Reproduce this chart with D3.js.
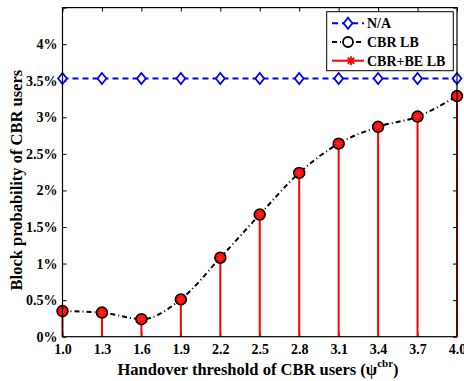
<!DOCTYPE html>
<html>
<head>
<meta charset="utf-8">
<script src="https://cdn.jsdelivr.net/npm/d3@7"></script>
<style>
  html, body { margin: 0; padding: 0; background: #fff; }
  svg { display: block; }
  text { font-family: "Liberation Serif", "Times New Roman", serif; font-weight: bold; fill: #000; }
</style>
</head>
<body>
<svg id="chart" width="464" height="381"></svg>
<script>
// Handover thresholds (x) and block probabilities in percent
const thresholds = [1.0, 1.3, 1.6, 1.9, 2.2, 2.5, 2.8, 3.1, 3.4, 3.7, 4.0];
const naValues   = [3.53, 3.53, 3.53, 3.53, 3.53, 3.53, 3.53, 3.53, 3.53, 3.53, 3.53];
const cbrLB      = [0.35, 0.33, 0.24, 0.51, 1.08, 1.67, 2.24, 2.64, 2.87, 3.01, 3.29];
const cbrBeLB    = [0.35, 0.33, 0.24, 0.51, 1.08, 1.67, 2.24, 2.64, 2.87, 3.01, 3.29];
const yTicks     = [0, 0.5, 1, 1.5, 2, 2.5, 3, 3.5, 4, 4.5];
const yTickLabels = ["0%", "0.5%", "1%", "1.5%", "2%", "2.5%", "3%", "3.5%", "4%", ""];
const legendLabels = ["N/A", "CBR LB", "CBR+BE LB"];

const svg = d3.select("#chart");
const m = { left: 62.5, right: 457, top: 7.6, bottom: 336.7 };

const x = d3.scaleLinear().domain([1.0, 4.0]).range([m.left, m.right]);
const y = d3.scaleLinear().domain([0, 4.5]).range([m.bottom, m.top]);

// Axes with inward ticks on all four sides
const fmtX = d3.format(".1f");
svg.append("g").attr("transform", `translate(0,${m.bottom})`)
  .call(d3.axisBottom(x).tickValues(thresholds).tickSize(-4).tickPadding(5).tickFormat(fmtX))
  .call(g => g.select(".domain").remove())
  .call(g => g.selectAll("text").attr("font-size", 14).attr("dy", "0.85em"));
svg.append("g").attr("transform", `translate(0,${m.top})`)
  .call(d3.axisTop(x).tickValues(thresholds).tickSize(-4).tickFormat(""))
  .call(g => g.select(".domain").remove());
svg.append("g").attr("transform", `translate(${m.left},0)`)
  .call(d3.axisLeft(y).tickValues(yTicks).tickSize(-4).tickPadding(5)
    .tickFormat((d, i) => yTickLabels[i]))
  .call(g => g.select(".domain").remove())
  .call(g => g.selectAll("text").attr("font-size", 14));
svg.append("g").attr("transform", `translate(${m.right},0)`)
  .call(d3.axisRight(y).tickValues(yTicks).tickSize(-4).tickFormat(""))
  .call(g => g.select(".domain").remove());
svg.selectAll(".tick line").attr("stroke", "#000");

// Stems (CBR+BE LB)
svg.append("g").selectAll("line").data(cbrBeLB).join("line")
  .attr("x1", (d, i) => x(thresholds[i])).attr("x2", (d, i) => x(thresholds[i]))
  .attr("y1", y(0)).attr("y2", d => y(d))
  .attr("stroke", "#ff0000").attr("stroke-width", 2);

// N/A dashed line with diamonds
const line = d3.line().x((d, i) => x(thresholds[i])).y(d => y(d));
svg.append("path").datum(naValues).attr("d", line)
  .attr("fill", "none").attr("stroke", "#0000ff").attr("stroke-width", 2)
  .attr("stroke-dasharray", "6,4");
const diamond = (cx, cy, s) => `M${cx},${cy - s}L${cx + s * 0.8},${cy}L${cx},${cy + s}L${cx - s * 0.8},${cy}Z`;
svg.append("g").selectAll("path").data(naValues).join("path")
  .attr("d", (d, i) => diamond(x(thresholds[i]), y(d), 5.5))
  .attr("fill", "#fff").attr("stroke", "#0000ff").attr("stroke-width", 1.8);

// CBR LB dash-dot smooth line
const smooth = d3.line().x((d, i) => x(thresholds[i])).y(d => y(d)).curve(d3.curveMonotoneX);
svg.append("path").datum(cbrLB).attr("d", smooth)
  .attr("fill", "none").attr("stroke", "#000").attr("stroke-width", 2)
  .attr("stroke-dasharray", "5,3,1,3");

// Markers: black-edged circles filled red with a red asterisk
const asterisk = (cx, cy, s) => {
  let p = "";
  for (let k = 0; k < 4; k++) {
    const a = k * Math.PI / 4;
    p += `M${cx - s * Math.cos(a)},${cy - s * Math.sin(a)}L${cx + s * Math.cos(a)},${cy + s * Math.sin(a)}`;
  }
  return p;
};
const mk = svg.append("g");
mk.selectAll("circle").data(cbrLB).join("circle")
  .attr("cx", (d, i) => x(thresholds[i])).attr("cy", d => y(d)).attr("r", 5.5)
  .attr("fill", "#ff0000").attr("stroke", "#000").attr("stroke-width", 1.5);
mk.selectAll("path").data(cbrBeLB).join("path")
  .attr("d", (d, i) => asterisk(x(thresholds[i]), y(d), 4))
  .attr("stroke", "#ff3333").attr("stroke-width", 1).attr("fill", "none");

// Plot frame
svg.append("rect").attr("x", m.left).attr("y", m.top)
  .attr("width", m.right - m.left).attr("height", m.bottom - m.top)
  .attr("fill", "none").attr("stroke", "#000").attr("stroke-width", 1.2);

// Legend
const lg = svg.append("g");
lg.append("rect").attr("x", 326.7).attr("y", 11.7).attr("width", 126.6).attr("height", 59)
  .attr("fill", "#fff").attr("stroke", "#000").attr("stroke-width", 1);
const rows = [23.3, 42, 60.7];
// N/A
lg.append("line").attr("x1", 332).attr("x2", 364).attr("y1", rows[0]).attr("y2", rows[0])
  .attr("stroke", "#0000ff").attr("stroke-width", 2).attr("stroke-dasharray", "6,4");
lg.append("path").attr("d", diamond(348, rows[0], 5.5))
  .attr("fill", "#fff").attr("stroke", "#0000ff").attr("stroke-width", 1.8);
// CBR LB
lg.append("line").attr("x1", 332).attr("x2", 364).attr("y1", rows[1]).attr("y2", rows[1])
  .attr("stroke", "#000").attr("stroke-width", 2).attr("stroke-dasharray", "5,3,1,3");
lg.append("circle").attr("cx", 348).attr("cy", rows[1]).attr("r", 5)
  .attr("fill", "#fff").attr("stroke", "#000").attr("stroke-width", 1.8);
// CBR+BE LB
lg.append("line").attr("x1", 332).attr("x2", 364).attr("y1", rows[2]).attr("y2", rows[2])
  .attr("stroke", "#ff0000").attr("stroke-width", 2);
lg.append("path").attr("d", asterisk(351, rows[2], 4.5))
  .attr("stroke", "#ff0000").attr("stroke-width", 1.8).attr("fill", "none");
lg.selectAll("text.lbl").data(legendLabels).join("text").attr("class", "lbl")
  .attr("x", 367).attr("y", (d, i) => rows[i]).attr("dy", "0.35em")
  .attr("font-size", 14).text(d => d);

// Axis titles
const xt = svg.append("text").attr("x", 258).attr("y", 375)
  .attr("text-anchor", "middle").attr("font-size", 16.5);
xt.append("tspan").text("Handover threshold of CBR users (\u03c8");
xt.append("tspan").attr("font-size", 11).attr("dy", -8).text("cbr");
xt.append("tspan").attr("dy", 8).text(")");

svg.append("text").attr("transform", `translate(22,${(m.top + m.bottom) / 2 + 8}) rotate(-90)`)
  .attr("text-anchor", "middle").attr("font-size", 16.5).text("Block probability of CBR users");
</script>
</body>
</html>
